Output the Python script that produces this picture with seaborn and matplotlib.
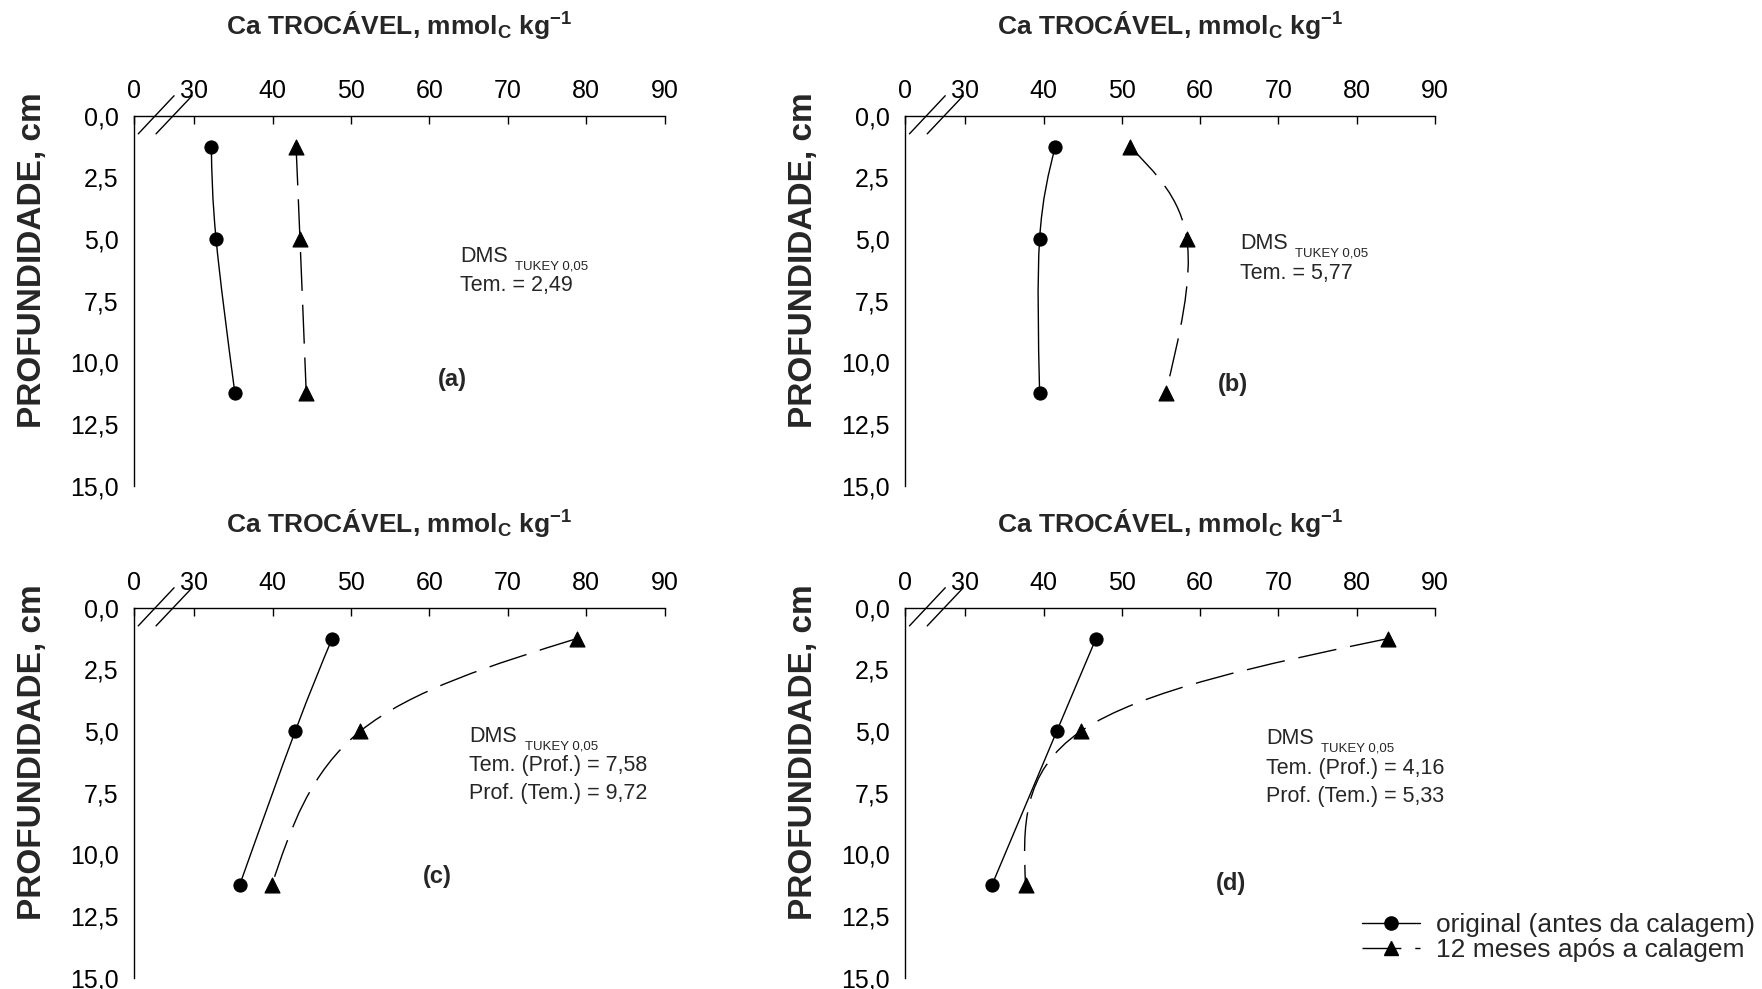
'''
Perfis de Ca trocável por profundidade, quatro painéis (a)-(d).
'''

#####################################
# Import Modules at the Top
#####################################

import numpy as np
import pandas as pd
import seaborn as sns
import matplotlib.pyplot as plt
from matplotlib.path import Path
from matplotlib.patches import PathPatch
from matplotlib.lines import Line2D

#####################################
# Data
#####################################

depth_cm = [1.25, 5.0, 11.25]

a_original = [32.2, 32.8, 35.2]
a_12_meses = [43.0, 43.5, 44.3]
b_original = [41.5, 39.5, 39.5]
b_12_meses = [51.0, 58.3, 55.6]
c_original = [47.6, 42.9, 35.8]
c_12_meses = [78.8, 51.2, 39.9]
d_original = [46.7, 41.7, 33.4]
d_12_meses = [84.0, 44.8, 37.7]

x_ticks = [30, 40, 50, 60, 70, 80, 90]
y_ticks = [0.0, 2.5, 5.0, 7.5, 10.0, 12.5, 15.0]

dms_a = ["Tem. = 2,49"]
dms_b = ["Tem. = 5,77"]
dms_c = ["Tem. (Prof.) = 7,58", "Prof. (Tem.) = 9,72"]
dms_d = ["Tem. (Prof.) = 4,16", "Prof. (Tem.) = 5,33"]

series_labels = ["original (antes da calagem)", "12 meses após a calagem"]

#####################################
# Layout
#####################################

X_BREAK = 22.3  # where the "0" of the broken axis sits
DASHES = (0, (28, 10))

AXES_RECT = {
    "a": [0.0759, 0.5089, 0.3013, 0.3741],
    "b": [0.5136, 0.5089, 0.3008, 0.3741],
    "c": [0.0759, 0.0114, 0.3013, 0.3741],
    "d": [0.5136, 0.0114, 0.3008, 0.3741],
}
TITLE_Y = {"a": 1.244, "b": 1.244, "c": 1.228, "d": 1.228}
# (x of DMS block, y of DMS line, x of letter, y of letter)
TEXT_POS = {
    "a": (63.9, 5.7, 62.9, 10.7),
    "b": (65.1, 5.2, 64.2, 10.9),
    "c": (65.1, 5.2, 61.0, 10.9),
    "d": (68.4, 5.3, 64.0, 11.2),
}

TITLE = r"Ca TROCÁVEL, mmol$_\mathbf{C}$ kg$^\mathbf{-1}$"


#####################################
# Helpers
#####################################

def smooth_path(xs, ys):
    """Cubic Bezier path through the points (spline look of the original)."""
    p = np.column_stack([xs, ys]).astype(float)
    t = np.zeros_like(p)
    t[1:-1] = (p[2:] - p[:-2]) / 2
    t[0] = 1.5 * (p[1] - p[0]) - 0.5 * t[1]
    t[-1] = 1.5 * (p[-1] - p[-2]) - 0.5 * t[-2]
    verts = [p[0]]
    codes = [Path.MOVETO]
    for i in range(len(p) - 1):
        verts += [p[i] + t[i] / 3, p[i + 1] - t[i + 1] / 3, p[i + 1]]
        codes += [Path.CURVE4] * 3
    return Path(verts, codes)


def draw_panel(ax, panel_df, dms_lines, letter):
    orig = panel_df[panel_df["serie"] == "original"]
    after = panel_df[panel_df["serie"] == "12 meses"]

    ax.add_patch(PathPatch(smooth_path(orig["ca"], orig["depth"]),
                           fill=False, ec="k", lw=1.0))
    ax.add_patch(PathPatch(smooth_path(after["ca"], after["depth"]),
                           fill=False, ec="k", lw=1.0, ls=DASHES))

    sns.scatterplot(data=orig, x="ca", y="depth", marker="o", s=90,
                    color="k", edgecolor="k", ax=ax, zorder=3, legend=False)
    sns.scatterplot(data=after, x="ca", y="depth", marker="^", s=115,
                    color="k", edgecolor="k", ax=ax, zorder=3, legend=False)

    ax.set_xlim(X_BREAK, 90)
    ax.set_ylim(15, 0)
    ax.set_xticks([X_BREAK] + x_ticks)
    ax.set_xticklabels(["0"] + [str(v) for v in x_ticks])
    ax.set_yticks(y_ticks)
    ax.set_yticklabels([f"{v:.1f}".replace(".", ",") for v in y_ticks])
    ax.xaxis.tick_top()
    ax.tick_params(axis="both", direction="in", length=6, width=1,
                   labelsize=18, colors="k")
    ax.tick_params(axis="x", pad=9)
    ax.tick_params(axis="y", pad=11)
    for side in ["right", "bottom"]:
        ax.spines[side].set_visible(False)
    for side in ["top", "left"]:
        ax.spines[side].set_linewidth(1.0)
        ax.spines[side].set_color("k")

    ax.set_xlabel("")
    ax.set_ylabel("PROFUNDIDADE, cm", fontsize=24, fontweight="bold")
    ax.yaxis.set_label_coords(-0.162, 0.61)

    ax.text(0.5, TITLE_Y[letter], TITLE, transform=ax.transAxes, ha="center",
            va="center", fontsize=19, fontweight="bold")

    # axis break marks
    ax.plot([0.0085, 0.076], [0.951, 1.054], transform=ax.transAxes,
            color="k", lw=1.0, clip_on=False)
    ax.plot([0.042, 0.110], [0.951, 1.054], transform=ax.transAxes,
            color="k", lw=1.0, clip_on=False)

    xd, yd, xl, yl = TEXT_POS[letter]
    dms = ax.text(xd, yd, "DMS", fontsize=15.5, va="center", ha="left")
    ax.annotate("TUKEY 0,05", xy=(1, 0), xycoords=dms, xytext=(5.5, -1.8),
                textcoords="offset points", fontsize=9.5, va="baseline")
    for i, line in enumerate(dms_lines):
        ax.text(xd, yd + 1.2 + 1.15 * i, line, fontsize=15.5, va="center",
                ha="left")
    ax.text(xl, yl, f"({letter})", fontsize=17, fontweight="bold",
            ha="center", va="center")


#####################################
# Main Execution
#####################################

def main():
    sns.set_style("white")
    plt.rcParams["font.family"] = ["Liberation Sans", "DejaVu Sans"]
    plt.rcParams["mathtext.fontset"] = "custom"
    plt.rcParams["mathtext.rm"] = "Liberation Sans"
    plt.rcParams["mathtext.bf"] = "Liberation Sans:bold"
    plt.rcParams["mathtext.it"] = "Liberation Sans:italic"

    values = {
        "a": (a_original, a_12_meses),
        "b": (b_original, b_12_meses),
        "c": (c_original, c_12_meses),
        "d": (d_original, d_12_meses),
    }
    dms = {"a": dms_a, "b": dms_b, "c": dms_c, "d": dms_d}

    rows = []
    for letter, (orig, after) in values.items():
        for dep, v in zip(depth_cm, orig):
            rows.append((letter, "original", dep, v))
        for dep, v in zip(depth_cm, after):
            rows.append((letter, "12 meses", dep, v))
    df = pd.DataFrame(rows, columns=["painel", "serie", "depth", "ca"])

    fig = plt.figure(figsize=(17.62, 9.89), dpi=100)
    for letter in ["a", "b", "c", "d"]:
        ax = fig.add_axes(AXES_RECT[letter])
        draw_panel(ax, df[df["painel"] == letter], dms[letter], letter)

    handles = [
        Line2D([], [], color="k", lw=1.0, marker="o", markersize=9.5),
        Line2D([], [], color="k", lw=1.0, ls=DASHES, marker="^",
               markersize=10.5),
    ]
    fig.legend(handles, series_labels, loc="upper left",
               bbox_to_anchor=(0.773, 0.077), frameon=False, fontsize=19,
               handlelength=2.2, handletextpad=0.6, borderpad=0,
               borderaxespad=0, labelspacing=0.05)

    fig.savefig("out.png", dpi=100, facecolor="white")


if __name__ == "__main__":
    main()
